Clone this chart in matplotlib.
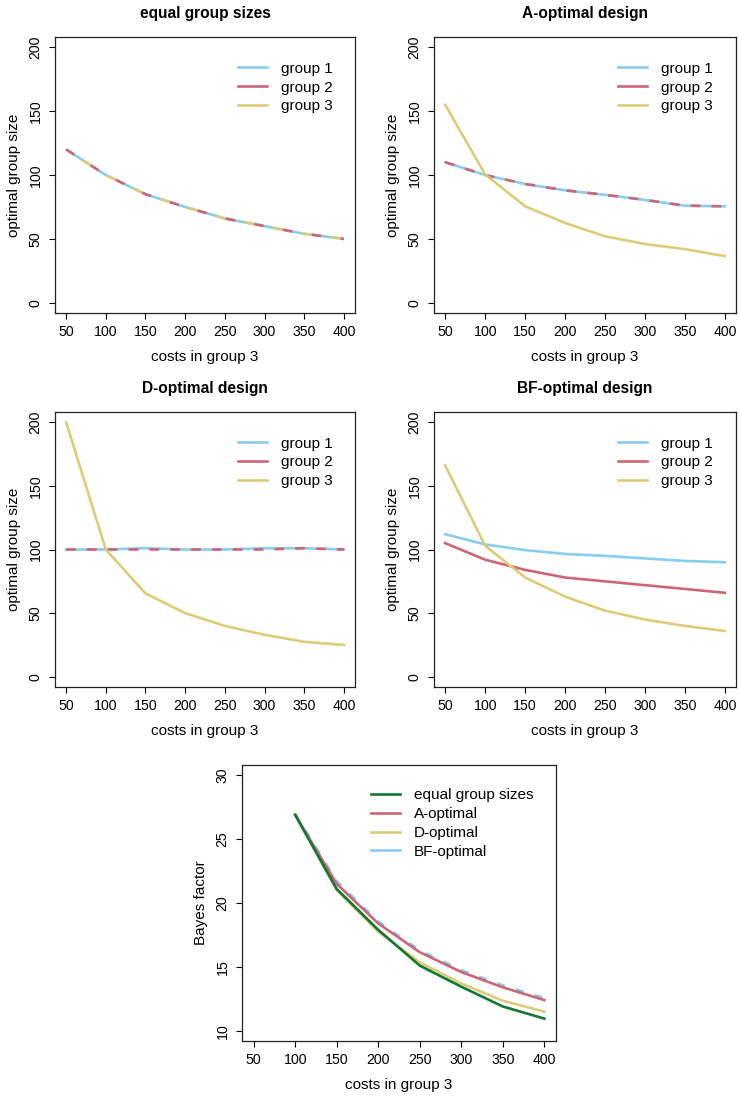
import matplotlib
matplotlib.use("Agg")
import matplotlib.pyplot as plt
from matplotlib.lines import Line2D

plt.rcParams['font.family'] = ['Liberation Sans', 'DejaVu Sans']
plt.rcParams['lines.scale_dashes'] = False

# ---------------- data ----------------
costs = [50, 100, 150, 200, 250, 300, 350, 400]
costs_bf = [100, 150, 200, 250, 300, 350, 400]

equal_g1 = [120, 100, 85, 75, 66, 60, 54, 50]
equal_g2 = [120, 100, 85, 75, 66, 60, 54, 50]
equal_g3 = [120, 100, 85, 75, 66, 60, 54, 50]

aopt_g1 = [110, 100, 93, 88, 84.5, 80.5, 76, 75.5]
aopt_g2 = [110, 100, 93, 88, 84.5, 80.5, 76, 75.5]
aopt_g3 = [155, 100.5, 75.5, 62.5, 52, 46, 42, 36.5]

dopt_g1 = [100, 100, 101, 100, 100, 101, 101, 100]
dopt_g2 = [100, 100, 100, 100, 100, 100, 101, 100]
dopt_g3 = [200, 100, 65.5, 50, 40, 33, 27.5, 25]

bfopt_g1 = [112, 104, 99.5, 96.5, 95, 93, 91, 90]
bfopt_g2 = [105, 92, 84, 78, 75, 72, 69, 66]
bfopt_g3 = [166, 103, 78, 63, 52, 45, 40, 36]

bf_equal = [26.9, 21.1, 17.9, 15.1, 13.45, 11.9, 10.95]
bf_aopt = [26.9, 21.5, 18.4, 16.15, 14.6, 13.4, 12.4]
bf_dopt = [26.9, 21.0, 17.75, 15.35, 13.7, 12.35, 11.5]
bf_bfopt = [27.0, 21.7, 18.55, 16.3, 14.75, 13.55, 12.55]

group_labels = ['group 1', 'group 2', 'group 3']
bf_labels = ['equal group sizes', 'A-optimal', 'D-optimal', 'BF-optimal']
titles = ['equal group sizes', 'A-optimal design', 'D-optimal design', 'BF-optimal design']

xticks = [50, 100, 150, 200, 250, 300, 350, 400]
yticks_size = [0, 50, 100, 150, 200]
yticks_bf = [10, 15, 20, 25, 30]

# ---------------- style ----------------
BLUE = '#88CCEE'
RED = '#CC6677'
SAND = '#DDCC77'
GREEN = '#117733'
LW = 1.9
FS_TICK = 10.2
FS_LAB = 11
FS_LEG = 11
FS_TITLE = 11.2

W, H = 739, 1096
fig = plt.figure(figsize=(W / 100, H / 100), dpi=100)


def add_axes_px(x0, y0, x1, y1):
    return fig.add_axes([x0 / W, 1 - y1 / H, (x1 - x0) / W, (y1 - y0) / H])


def style(ax, ylim, yticks, ylabel):
    ax.set_xlim(36, 414)
    ax.set_ylim(*ylim)
    ax.set_xticks(xticks)
    ax.set_yticks(yticks)
    ax.tick_params(direction='out', length=4, width=0.8, labelsize=FS_TICK)
    ax.tick_params(axis='x', pad=4.5)
    ax.tick_params(axis='y', pad=5.0)
    for lab in ax.get_yticklabels():
        lab.set_rotation(90)
        lab.set_va('center')
    for s in ax.spines.values():
        s.set_linewidth(0.9)
        s.set_color('#222222')
    ax.set_xlabel('costs in group 3', fontsize=FS_LAB, labelpad=8)
    ax.set_ylabel(ylabel, fontsize=FS_LAB, labelpad=5.5)


def make_legend(ax, colors, labels, anchor):
    handles = [Line2D([], [], color=c, lw=LW) for c in colors]
    ax.legend(handles, labels, loc='upper left', bbox_to_anchor=anchor,
              frameon=False, fontsize=FS_LEG, handlelength=1.9, handletextpad=0.92,
              labelspacing=0.31, borderpad=0, borderaxespad=0)


panels = [
    ((55, 37, 355, 313), (equal_g1, equal_g2, equal_g3), 'equal'),
    ((434, 37, 736, 313), (aopt_g1, aopt_g2, aopt_g3), 'a'),
    ((55, 412, 355, 687), (dopt_g1, dopt_g2, dopt_g3), 'd'),
    ((434, 412, 736, 687), (bfopt_g1, bfopt_g2, bfopt_g3), 'bf'),
]

for (box, (g1, g2, g3), kind), title in zip(panels, titles):
    ax = add_axes_px(*box)
    if kind == 'equal':
        ax.plot(costs, g1, color=BLUE, lw=LW, solid_capstyle='butt')
        ax.plot(costs, g2, color=RED, lw=LW, ls=(0, (7, 14)))
        ax.plot(costs, g3, color=SAND, lw=LW, ls=(7, (7, 14)))
    elif kind in ('a', 'd'):
        ax.plot(costs, g1, color=BLUE, lw=LW)
        ax.plot(costs, g2, color=RED, lw=LW, ls=(0, (7, 8)))
        ax.plot(costs, g3, color=SAND, lw=LW)
    else:
        ax.plot(costs, g1, color=BLUE, lw=LW)
        ax.plot(costs, g2, color=RED, lw=LW)
        ax.plot(costs, g3, color=SAND, lw=LW)
    style(ax, (-8, 208), yticks_size, 'optimal group size')
    ax.set_title(title, fontsize=FS_TITLE, fontweight='bold', pad=13.5)
    make_legend(ax, (BLUE, RED, SAND), group_labels, (0.61, 0.91))

# bottom panel
ax = add_axes_px(242, 765, 556, 1041)
ax.plot(costs_bf, bf_bfopt, color=BLUE, lw=LW, ls=(0, (6, 8)))
ax.plot(costs_bf, bf_aopt, color=RED, lw=LW)
ax.plot(costs_bf, bf_dopt, color=SAND, lw=LW)
ax.plot(costs_bf, bf_equal, color=GREEN, lw=LW)
style(ax, (9.2, 30.8), yticks_bf, 'Bayes factor')
make_legend(ax, (GREEN, RED, SAND, BLUE), bf_labels, (0.41, 0.915))

fig.savefig('out.png', dpi=100)
